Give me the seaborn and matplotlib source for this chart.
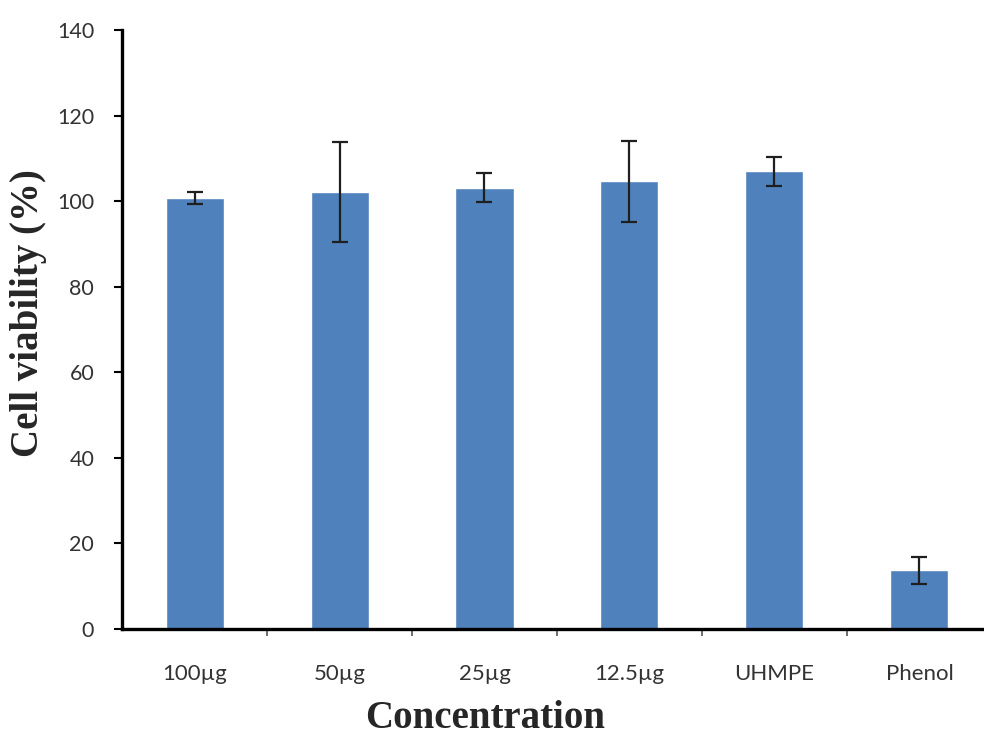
import matplotlib
matplotlib.use("Agg")
import matplotlib.pyplot as plt
import seaborn as sns
import pandas as pd
import numpy as np

# Cell viability per treatment group (mean and standard deviation, %)
groups = ["100\u00b5g", "50\u00b5g", "25\u00b5g", "12.5\u00b5g", "UHMPE", "Phenol"]
viability = [100.7, 102.2, 103.1, 104.6, 107.0, 13.7]
std_dev = [1.4, 11.7, 3.4, 9.5, 3.4, 3.1]
y_ticks = [0, 20, 40, 60, 80, 100, 120, 140]

df = pd.DataFrame({"group": groups, "viability": viability, "sd": std_dev})

sns.set_style("white")
plt.rcParams["font.family"] = ["Lato", "DejaVu Sans"]

fig = plt.figure(figsize=(9.84, 7.47), dpi=100)
ax = fig.add_axes([122 / 984, 118 / 747, 870 / 984, 599 / 747])

sns.barplot(data=df, x="group", y="viability", color="#4F81BD",
            width=0.4, saturation=1, errorbar=None, ax=ax)

xpos = np.arange(len(groups))
ax.errorbar(xpos, df["viability"], yerr=df["sd"], fmt="none",
            ecolor="#1f1f1f", elinewidth=1.6, capsize=5.5, capthick=1.6)

ax.set_xlim(-0.5, len(groups) - 0.5)
ax.set_ylim(0, 140)
ax.set_yticks(y_ticks)

# boundary ticks between groups, labels centred on the bars
ax.set_xticks(np.arange(len(groups) - 1) + 0.5)
ax.set_xticklabels([])
ax.set_xticks(xpos, minor=True)
ax.set_xticklabels(groups, minor=True)
ax.tick_params(axis="x", which="major", direction="out", length=5, width=1.2,
               color="#555555", bottom=True)
ax.tick_params(axis="x", which="minor", length=0, pad=25, labelsize=16,
               labelcolor="#333333")
ax.tick_params(axis="y", direction="out", length=6, width=1.5, color="black",
               left=True, pad=14, labelsize=15.5, labelcolor="#333333")

for side in ("top", "right"):
    ax.spines[side].set_visible(False)
for side in ("left", "bottom"):
    ax.spines[side].set_linewidth(2.4)
    ax.spines[side].set_color("black")

ax.set_xlabel("Concentration", family="Liberation Serif", fontweight="bold",
              fontsize=28)
ax.xaxis.set_label_coords((485 - 122) / 870, -0.118)
ax.set_ylabel("Cell viability (%)", family="Liberation Serif", fontweight="bold",
              fontsize=28)
ax.yaxis.set_label_coords(-0.086, 0.528)

fig.savefig("out.png", dpi=100, facecolor="white")
